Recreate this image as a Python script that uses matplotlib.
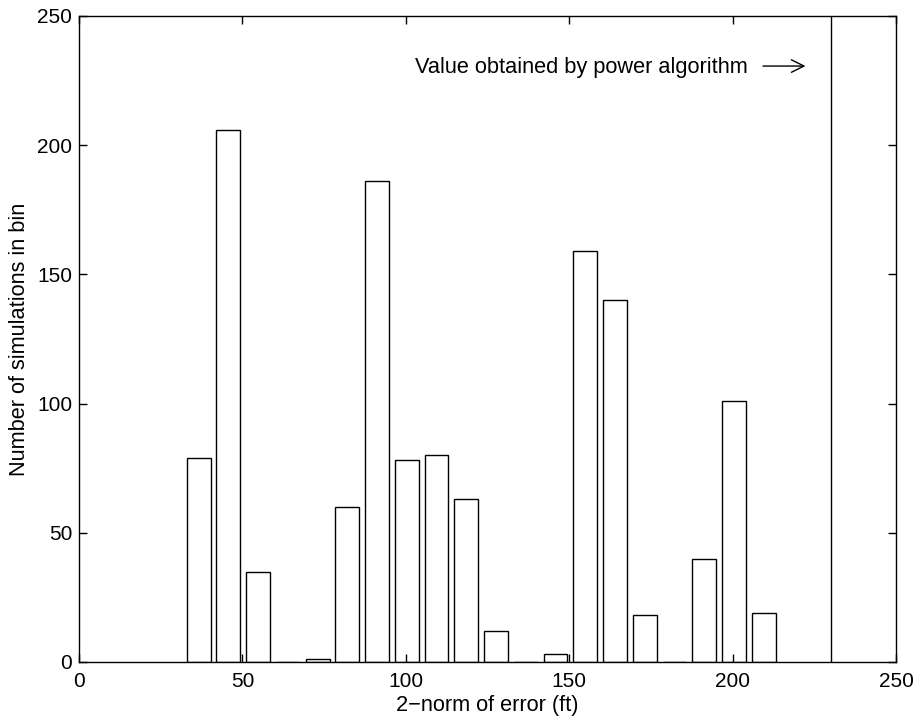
import matplotlib
matplotlib.use('Agg')
import matplotlib.pyplot as plt

# bin centres (ft) and counts
bin_centers = [36.6, 45.7, 54.8, 63.9, 73.0, 82.1, 91.2, 100.3, 109.4, 118.5,
               127.6, 136.7, 145.8, 154.9, 164.0, 173.1, 182.2, 191.3, 200.4, 209.5]
counts = [79, 206, 35, 0, 1, 60, 186, 78, 80, 63,
          12, 0, 3, 159, 140, 18, 0, 40, 101, 19]
bar_width = 7.3

power_value = 230  # value obtained by the power algorithm
xticks = [0, 50, 100, 150, 200, 250]
yticks = [0, 50, 100, 150, 200, 250]

plt.rcParams['font.family'] = ['Liberation Sans', 'DejaVu Sans']

fig = plt.figure(figsize=(9.2, 7.23), dpi=100)
ax = fig.add_axes([0.0859, 0.0844, 0.888, 0.8936])

ax.bar(bin_centers, counts, width=bar_width, facecolor='white',
       edgecolor='black', linewidth=1.0)
ax.axvline(power_value, color='black', linewidth=1.0)

# label with a long open arrow after it
ax.text(102.8, 230, 'Value obtained by power algorithm',
        fontsize=15.7, va='center', ha='left')
ax.annotate('', xy=(222.3, 230.6), xytext=(209.3, 230.6),
            arrowprops=dict(arrowstyle='->,head_length=0.9,head_width=0.45',
                            lw=1.0, color='black', shrinkA=0, shrinkB=0))

ax.set_xlim(0, 250)
ax.set_ylim(0, 250)
ax.set_xticks(xticks)
ax.set_yticks(yticks)
ax.tick_params(direction='in', length=6, width=1, top=True, right=True,
               labelsize=15)
ax.tick_params(axis='x', pad=7)
ax.tick_params(axis='y', pad=5)
for s in ax.spines.values():
    s.set_linewidth(1.0)

ax.set_xlabel('2\u2212norm of error (ft)', fontsize=15.7, labelpad=3)
ax.set_ylabel('Number of simulations in bin', fontsize=15.7, labelpad=5)

fig.savefig('out.png', dpi=100)
